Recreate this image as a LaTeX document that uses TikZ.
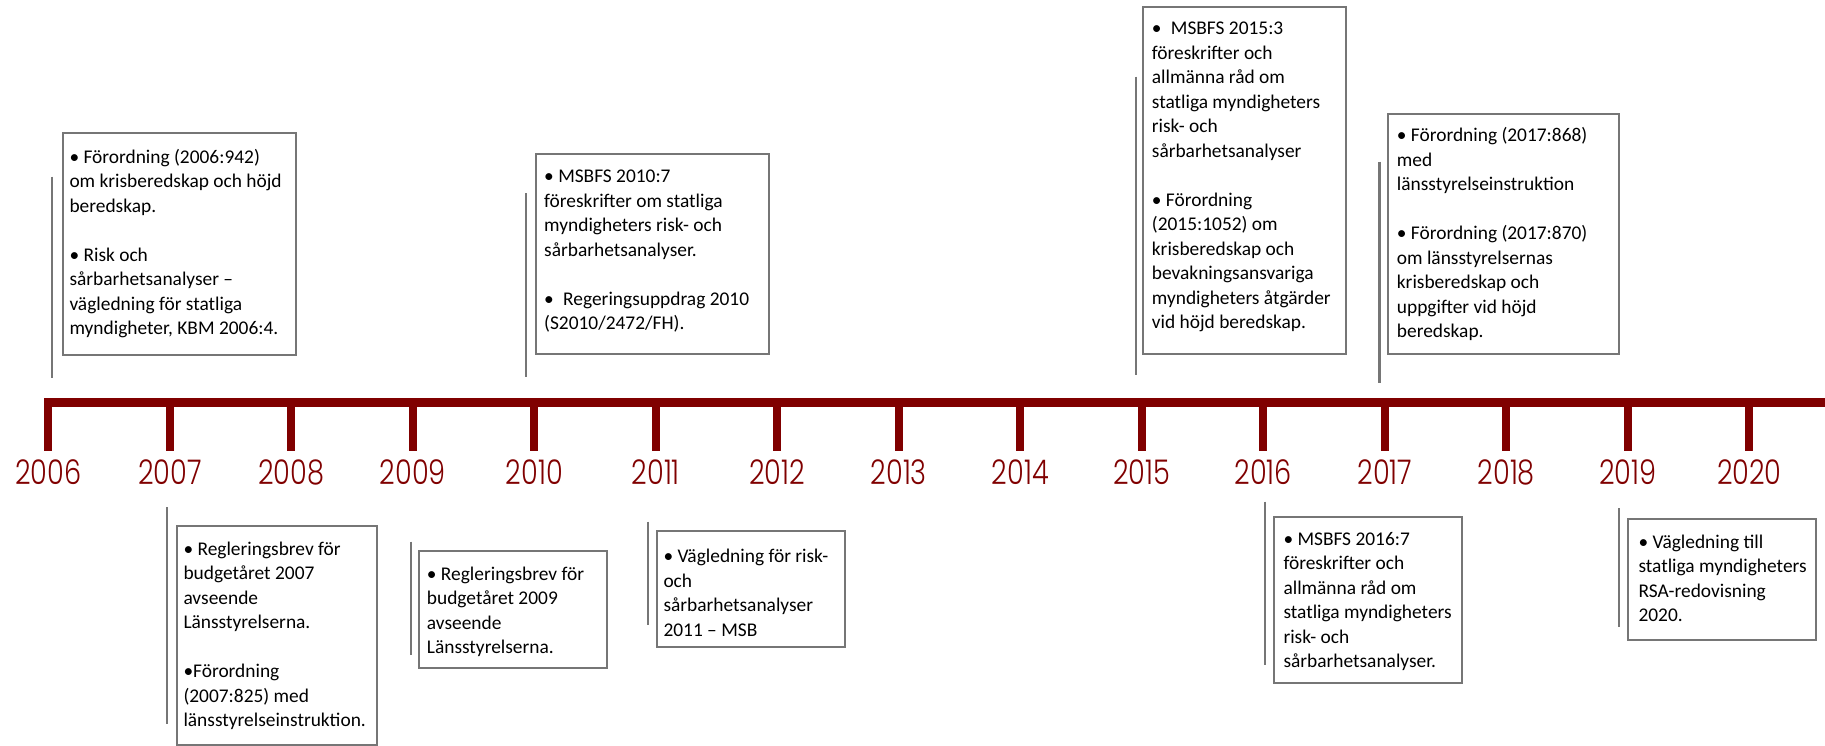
\documentclass[tikz,border=0pt]{standalone}
\usepackage{fontspec}
\setmainfont{Carlito}
\IfFontExistsTF{Poppins Light}
  {\newfontfamily\yearfont{Poppins Light}}
  {\newfontfamily\yearfont{Poppins}}
\usetikzlibrary{fit}

\definecolor{tlred}{HTML}{800000}
\definecolor{tlgray}{HTML}{767676}

\tikzset{
  eventbox/.style={draw=tlgray, line width=2pt, inner sep=0pt},
  eventtext/.style={inner sep=0pt, anchor=base west, text=black,
    font=\fontsize{19.4}{24.5}\selectfont},
  yearlabel/.style={inner sep=0pt, anchor=base, text=tlred,
    font=\yearfont\fontsize{34}{34}\selectfont},
  stem/.style={draw=tlgray, line width=2.2pt},
  yeartick/.style={draw=tlred, line width=8pt},
}

% stacked lines of a text block; baseline = first line
\newcommand{\evlines}[1]{\parbox[t]{300pt}{\raggedright #1}}
\newcommand{\gap}{\\[\baselineskip]}

\begin{document}
\begin{tikzpicture}[x=1pt, y=-1pt]
\useasboundingbox (0,0) rectangle (1825,746);

% timeline bar, ticks and years
\fill[tlred] (44,397.5) rectangle (1825,406.5);
\foreach \yr [count=\i from 0] in {2006,...,2020} {
  \pgfmathsetmacro{\tx}{48.3+121.5*\i}
  \draw[yeartick] (\tx,402) -- (\tx,450.7);
  \node[yearlabel] (y\yr) at (\tx,484) {\scalebox{0.8}[1]{\yr}};
}

% ---------- events above the line ----------
\draw[stem] (52.3,176.7) -- (52.3,378.3);
\node[eventbox, fit={(62.7,133.3) (296,355)}] (b2006) {};
\node[eventtext] (t2006) at (69.3,163.3) {\evlines{%
• Förordning (2006:942)\\
om krisberedskap och höjd\\
beredskap.\gap
• Risk och\\
sårbarhetsanalyser –\\
vägledning för statliga\\
myndigheter, KBM 2006:4.}};

\draw[stem] (526,193.3) -- (526,377.3);
\node[eventbox, fit={(535.7,154) (769,354)}] (b2010) {};
\node[eventtext] (t2010) at (544,182.7) {\evlines{%
• MSBFS 2010:7\\
föreskrifter om statliga\\
myndigheters risk- och\\
sårbarhetsanalyser.\gap
•\hspace{5pt} Regeringsuppdrag 2010\\
(S2010/2472/FH).}};

\draw[stem] (1136,76.7) -- (1136,375);
\node[eventbox, fit={(1142.7,7.3) (1346,354)}] (b2015) {};
\node[eventtext] (t2015) at (1151.7,35) {\evlines{%
•\hspace{5pt} MSBFS 2015:3\\
föreskrifter och\\
allmänna råd om\\
statliga myndigheters\\
risk- och\\
sårbarhetsanalyser\gap
• Förordning\\
(2015:1052) om\\
krisberedskap och\\
bevakningsansvariga\\
myndigheters åtgärder\\
vid höjd beredskap.}};

\draw[stem] (1379.5,161.7) -- (1379.5,383.3);
\node[eventbox, fit={(1387.7,114) (1618.7,354)}] (b2017) {};
\node[eventtext] (t2017) at (1396.7,141.7) {\evlines{%
• Förordning (2017:868)\\
med\\
länsstyrelseinstruktion\gap
• Förordning (2017:870)\\
om länsstyrelsernas\\
krisberedskap och\\
uppgifter vid höjd\\
beredskap.}};

% ---------- events below the line ----------
\draw[stem] (167.3,507.3) -- (167.3,724);
\node[eventbox, fit={(176.7,526) (377.3,745)}] (b2007) {};
\node[eventtext] (t2007) at (183.3,555) {\evlines{%
• Regleringsbrev för\\
budgetåret 2007\\
avseende\\
Länsstyrelserna.\gap
•Förordning\\
(2007:825) med\\
länsstyrelseinstruktion.}};

\draw[stem] (410.7,541.7) -- (410.7,655);
\node[eventbox, fit={(419,551) (607.3,668.3)}] (b2009) {};
\node[eventtext] (t2009) at (426.7,580) {\evlines{%
• Regleringsbrev för\\
budgetåret 2009\\
avseende\\
Länsstyrelserna.}};

\draw[stem] (648.3,521.7) -- (648.3,625);
\node[eventbox, fit={(656.7,530.7) (845,647.3)}] (b2011) {};
\node[eventtext] (t2011) at (663.3,562.7) {\evlines{%
• Vägledning för risk-\\
och\\
sårbarhetsanalyser\\
2011 – MSB}};

\draw[stem] (1265,501.7) -- (1265,665);
\node[eventbox, fit={(1274,516.7) (1462,683.3)}] (b2016) {};
\node[eventtext] (t2016) at (1283.3,545) {\evlines{%
• MSBFS 2016:7\\
föreskrifter och\\
allmänna råd om\\
statliga myndigheters\\
risk- och\\
sårbarhetsanalyser.}};

\draw[stem] (1619,508.3) -- (1619,626.7);
\node[eventbox, fit={(1628.3,519) (1816,640)}] (b2019) {};
\node[eventtext] (t2019) at (1638.3,548.3) {\evlines{%
• Vägledning till\\
statliga myndigheters\\
RSA-redovisning\\
2020.}};

\end{tikzpicture}
\end{document}
